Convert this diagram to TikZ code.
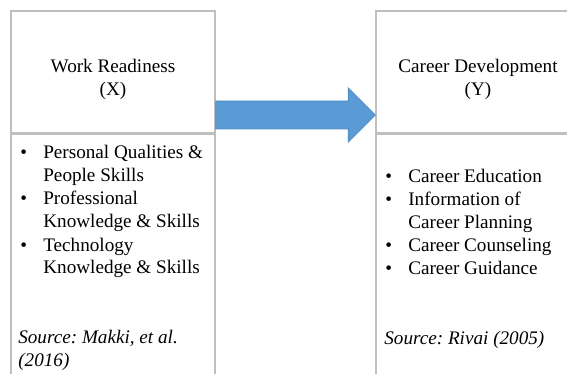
\documentclass[tikz,border=0pt]{standalone}
\usepackage{fontspec}
\setmainfont{Liberation Serif}
\usetikzlibrary{calc}
\definecolor{frame}{HTML}{BFBFBF}
\definecolor{arrowfill}{HTML}{5B9BD5}
\definecolor{arrowedge}{HTML}{4F8BC4}
\newlength{\px}\setlength{\px}{0.6pt}
\frenchspacing
\tikzset{
  panel/.style={draw=frame, line width=1.3\px, minimum width=204\px, inner sep=0pt},
  heading/.style={align=center, inner sep=0pt, font=\fontsize{11.5}{13.8}\selectfont},
  % multi-line texts sit on the baseline of their last line
  items/.style={align=left, anchor=base west, inner sep=0pt,
                font=\fontsize{11.5}{13.8}\selectfont},
  source/.style={items, font=\fontsize{11.5}{13.8}\selectfont\itshape},
  flow/.style={fill=arrowfill, draw=arrowedge, line width=0.8\px},
}
\newcommand{\itm}{\makebox[23\px][l]{\textbullet}}
\newcommand{\cont}{\hspace*{23\px}}

\begin{document}
\begin{tikzpicture}[x=\px, y=-\px]
  \useasboundingbox (0,0) rectangle (567,374);
  \clip (0,0) rectangle (567,374);

  % --- the two variable panels, head and body; the bodies run past the page
  \node[panel, minimum height=122\px] (wrhead) at (113,72) {};
  \node[panel, minimum height=260\px, anchor=north] (wrbody) at (wrhead.south) {};
  \node[panel, minimum height=122\px] (cdhead) at (478,72) {};
  \node[panel, minimum height=260\px, anchor=north] (cdbody) at (cdhead.south) {};

  \node[heading] (wrtitle) at ($(wrhead.center)+(0,7)$) {Work Readiness\\(X)};
  \node[heading] (cdtitle) at ($(cdhead.center)+(0,7)$) {Career Development\\(Y)};

  % --- block arrow from X to Y
  \coordinate (tail) at ($(wrhead.east)+(0,43)$);
  \coordinate (tip) at (cdhead.west |- tail);
  \draw[flow] ($(tail)+(0,-14)$) -- ($(tip)+(-27,-14)$) -- ($(tip)+(-27,-27)$)
    -- (tip) -- ($(tip)+(-27,27)$) -- ($(tip)+(-27,14)$) -- ($(tail)+(0,14)$) -- cycle;

  % --- indicators of X
  \node[items] (wr1) at (20,182) {\itm Personal Qualities \&\\\cont People Skills};
  \node[items] (wr2) at (20,228) {\itm Professional\\\cont Knowledge \& Skills};
  \node[items] (wr3) at (20,274) {\itm Technology\\\cont Knowledge \& Skills};
  \node[source] (wrsrc) at (18,366) {Source: Makki, et al.\\(2016)};

  % --- indicators of Y
  \node[items] (cd1) at (385,183) {\itm Career Education};
  \node[items] (cd2) at (385,229) {\itm Information of\\\cont Career Planning};
  \node[items] (cd3) at (385,252) {\itm Career Counseling};
  \node[items] (cd4) at (385,275) {\itm Career Guidance};
  \node[source] (cdsrc) at (384,344) {Source: Rivai (2005)};
\end{tikzpicture}
\end{document}
